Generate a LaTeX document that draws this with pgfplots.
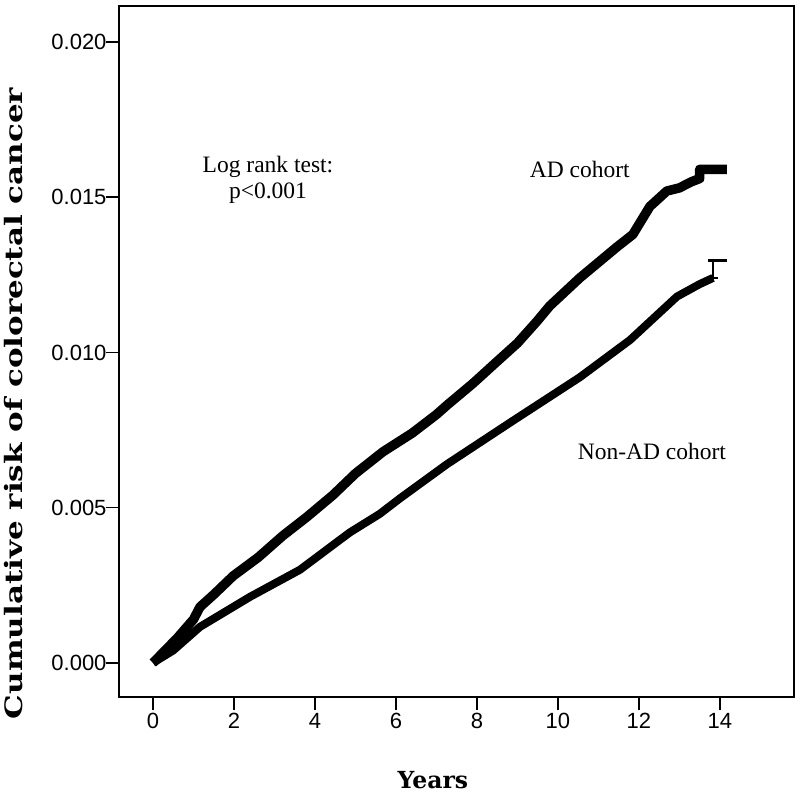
\documentclass[border=0pt]{standalone}
\usepackage{fontspec}
\setmainfont{Liberation Serif}
\newfontfamily\tickfont{Liberation Sans}
\newfontfamily\labfont{DejaVu Serif}
\usepackage{pgfplots}
\pgfplotsset{compat=1.18}
\begin{document}
\begin{tikzpicture}
\path[use as bounding box] (-119bp,-96bp) rectangle (681bp,697bp);
\begin{axis}[
  at={(0,0)}, anchor=south west,
  scale only axis, width=675bp, height=691bp,
  xmin=-0.84, xmax=15.83, ymin=-0.0011, ymax=0.02116,
  axis line style={line width=1.6bp},
  xtick={0,2,4,6,8,10,12,14}, xticklabels={0,2,4,6,8,10,12,14},
  ytick={0,0.005,0.01,0.015,0.02}, yticklabels={0.000,0.005,0.010,0.015,0.020},
  scaled y ticks=false, scaled x ticks=false,
  tick pos=left, tick align=outside, major tick length=13bp,
  every tick/.style={black, line width=1.6bp},
  tick label style={font=\tickfont\fontsize{22bp}{24bp}\selectfont},
  yticklabel style={xshift=4bp},
  xlabel={Years}, ylabel={\scalebox{1.29}[1]{Cumulative risk of colorectal cancer}},
  xlabel style={font=\labfont\bfseries\fontsize{23.5bp}{26bp}\selectfont, at={(axis description cs:0.465,-0.120)}, anchor=center},
  ylabel style={font=\labfont\bfseries\fontsize{24bp}{26bp}\selectfont, at={(axis description cs:-0.1556,0.4248)}, anchor=center},
]
\addplot[black, line width=9.5bp, line join=round] coordinates {
(0,0) (0.3,0.0004) (0.6,0.0008) (1.0,0.0014) (1.16,0.0018) (1.5,0.0022)
(1.98,0.0028) (2.6,0.0034) (3.21,0.0041) (3.8,0.0047) (4.44,0.0054)
(5.0,0.0061) (5.68,0.0068) (6.4,0.0074) (7.0,0.0080) (7.26,0.0083) (7.9,0.0090)
(8.49,0.0097) (9.0,0.0103) (9.48,0.0110) (9.8,0.0115) (10.54,0.0124)
(11.0,0.0129) (11.46,0.0134) (11.85,0.0138) (12.27,0.0147) (12.69,0.0152)
(13.0,0.0153) (13.3,0.0155) (13.5,0.0156) (13.5,0.0159) (14.17,0.0159)
};
\addplot[black, line width=8bp, line join=round] coordinates {
(0,0) (0.5,0.0004) (1.16,0.00116) (2.4,0.00213) (3.63,0.0030)
(4.86,0.0042) (5.6,0.0048) (6.1,0.0053) (7.26,0.0064) (8.89,0.0078)
(10.54,0.0092) (11.78,0.0104) (12.94,0.0118) (13.5,0.0122) (13.83,0.0124)
};
\addplot[black, line width=2bp] coordinates {(13.83,0.0124) (13.83,0.0130)};
\addplot[black, line width=3bp] coordinates {(13.7,0.01297) (14.17,0.01297)};
\addplot[black, line width=2.5bp] coordinates {(13.63,0.0124) (13.95,0.0124)};
\node[font=\fontsize{23.5bp}{26bp}\selectfont, align=center] at (axis cs:2.84,0.01556) {Log rank test:\\p<0.001};
\node[font=\fontsize{23.5bp}{26bp}\selectfont] at (axis cs:10.54,0.01588) {AD cohort};
\node[font=\fontsize{23.5bp}{26bp}\selectfont] at (axis cs:12.32,0.0068) {Non-AD cohort};
\end{axis}
\end{tikzpicture}
\end{document}
